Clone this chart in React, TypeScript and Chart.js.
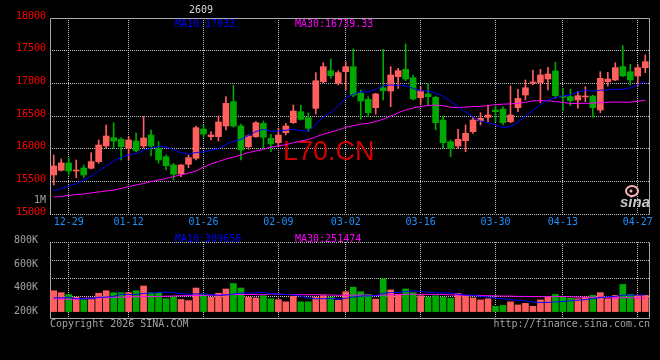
import React, { useEffect, useRef } from 'react';
import { Chart, registerables } from 'chart.js';

Chart.register(...registerables);

// ---------- data ----------
const dates = [
  '12-25', '12-26', '12-29', '12-30', '12-31',
  '01-05', '01-06', '01-07', '01-08', '01-09',
  '01-12', '01-13', '01-14', '01-15', '01-16',
  '01-19', '01-20', '01-21', '01-22', '01-23',
  '01-26', '01-27', '01-28', '01-29', '01-30',
  '02-02', '02-03', '02-04', '02-05', '02-06',
  '02-09', '02-10', '02-11', '02-12', '02-13',
  '02-24', '02-25', '02-26', '02-27',
  '03-02', '03-03', '03-04', '03-05', '03-06',
  '03-09', '03-10', '03-11', '03-12', '03-13',
  '03-16', '03-17', '03-18', '03-19', '03-20',
  '03-23', '03-24', '03-25', '03-26', '03-27',
  '03-30', '03-31', '04-01', '04-02', '04-03',
  '04-07', '04-08', '04-09', '04-10',
  '04-13', '04-14', '04-15', '04-16', '04-17',
  '04-20', '04-21', '04-22', '04-23', '04-24',
  '04-27', '04-28',
];

const tickDates = ['12-29', '01-12', '01-26', '02-09', '03-02', '03-16', '03-30', '04-13', '04-27'];

const open = [
  15597, 15669, 15781, 15658, 15704, 15700, 15801, 16041, 16168, 16143,
  16006, 16117, 16041, 16209, 16006, 15877, 15750, 15612, 15761, 15852,
  16301, 16183, 16183, 16347, 16719, 16347, 16030, 16183, 16388, 16158,
  16091, 16245, 16397, 16566, 16474, 16618, 17025, 17193, 17000, 17178,
  17255, 16847, 16755, 16627, 16933, 16883, 17102, 17214, 17086, 16780,
  16837, 16786, 16439, 16107, 16041, 16122, 16260, 16428, 16480, 16592,
  16607, 16413, 16627, 16821, 17000, 17010, 17066, 17189, 16806, 16796,
  16745, 16791, 16806, 16592, 17025, 17051, 17255, 17178, 17112, 17240,
];
const high = [
  15903, 15842, 15862, 15827, 15750, 15938, 16133, 16362, 16397, 16168,
  16183, 16240, 16492, 16286, 16107, 15903, 15776, 15760, 15903, 16347,
  16362, 16260, 16500, 16796, 16974, 16378, 16210, 16413, 16423, 16220,
  16311, 16388, 16668, 16668, 16550, 17163, 17316, 17372, 17193, 17331,
  17525, 16898, 16796, 16847, 17520, 17255, 17230, 17602, 17128, 16948,
  17000, 16806, 16500, 16133, 16296, 16362, 16480, 16550, 16668, 16653,
  16642, 16959, 16908, 17051, 17204, 17214, 17245, 17322, 16924, 16908,
  16872, 16948, 16821, 17178, 17168, 17316, 17576, 17291, 17281, 17434,
];
const low = [
  15444, 15658, 15597, 15556, 15556, 15689, 15776, 16006, 16006, 15827,
  15827, 15954, 16010, 15888, 15776, 15673, 15520, 15571, 15709, 15827,
  16171, 16133, 16117, 16286, 16327, 15827, 15990, 16174, 16006, 15954,
  16030, 16209, 16388, 16439, 16260, 16531, 17010, 17077, 16974, 16898,
  16796, 16454, 16490, 16531, 16745, 16642, 16924, 17040, 16745, 16668,
  16668, 16286, 16006, 15877, 16006, 15954, 16235, 16362, 16413, 16413,
  16362, 16397, 16566, 16745, 16974, 16704, 16898, 16770, 16581, 16658,
  16618, 16719, 16480, 16551, 16959, 17040, 17102, 16974, 16959, 17163,
];
const close = [
  15735, 15781, 15658, 15673, 15597, 15801, 16056, 16194, 16117, 16030,
  16133, 15972, 16163, 16041, 15827, 15739, 15607, 15750, 15862, 16321,
  16224, 16209, 16408, 16694, 16347, 15980, 16194, 16397, 16174, 16071,
  16209, 16347, 16576, 16449, 16311, 17040, 17255, 17117, 17163, 17255,
  16821, 16730, 16551, 16837, 16887, 17128, 17194, 17066, 16760, 16887,
  16796, 16397, 16091, 16006, 16143, 16235, 16439, 16464, 16515, 16566,
  16397, 16515, 16770, 16933, 17020, 17128, 17143, 16811, 16786, 16735,
  16811, 16806, 16627, 17077, 17066, 17240, 17113, 17051, 17240, 17331,
];
const volume = [
  375000, 359000, 344000, 321000, 300000, 302000, 354000, 375000, 359000, 359000,
  359000, 375000, 415000, 359000, 359000, 308000, 323000, 302000, 292000, 398000,
  346000, 321000, 354000, 390000, 436000, 398000, 321000, 315000, 333000, 308000,
  300000, 282000, 328000, 282000, 282000, 321000, 333000, 321000, 295000, 367000,
  405000, 367000, 344000, 305000, 475000, 382000, 346000, 390000, 359000, 333000,
  321000, 333000, 321000, 313000, 352000, 328000, 315000, 298000, 308000, 244000,
  252000, 282000, 256000, 269000, 244000, 298000, 321000, 344000, 328000, 313000,
  308000, 321000, 336000, 359000, 308000, 336000, 428000, 344000, 336000, 336000,
];
// moving-average values before enough history exists
const ma10Head = [15357, 15390, 15429, 15467, 15513, 15582, 15658, 15735, 15811];
const ma30Head = [
  15260, 15268, 15283, 15298, 15306, 15321, 15337, 15352, 15367, 15390,
  15421, 15444, 15467, 15497, 15520, 15543, 15574, 15597, 15628, 15658,
  15719, 15765, 15804, 15842, 15872, 15903, 15941, 15964, 15987,
];
const volMa10Head = [315000, 315000, 321000, 308000, 308000, 308000, 321000, 321000, 328000];
const volMa30Head = [
  308000, 308000, 303000, 303000, 313000, 313000, 313000, 321000, 321000, 321000,
  324000, 325000, 326000, 327000, 328000, 329000, 331000, 333000, 334000, 335000,
  336000, 338000, 340000, 342000, 343000, 344000, 344000, 343000, 341000,
];
const priceMin = 15000;
const priceMax = 18000;
const priceStep = 500;
const volTicks = [200000, 400000, 600000, 800000];
const volBase = 200000;

// ---------- styles ----------
const MONO = "'DejaVu Sans Mono', monospace";
const UP = '#ff5f5f';
const DOWN = '#00a800';
const GRID = '#c4c4c4';
const FRAME = '#a8a8a8';
const GREY_TXT = '#a0a0a0';

function movingAverage(src: number[], n: number, head: number[]) {
  return src.map((_, i) => {
    if (i < head.length) return head[i];
    let s = 0;
    for (let k = i - n + 1; k <= i; k++) s += src[k];
    return s / n;
  });
}

const tickSet = new Set(tickDates.map((d) => dates.indexOf(d)));
const candleColors = close.map((c, i) => (c >= open[i] ? UP : DOWN));

const xGrid = (ctx: any) => (tickSet.has(ctx.index) ? GRID : 'rgba(0,0,0,0)');

const pricePlugin = {
  id: 'priceDeco',
  beforeDatasetsDraw(chart: any) {
    const { ctx, chartArea: a } = chart;
    ctx.save();
    ctx.fillStyle = '#d00000';
    ctx.font = "27px 'Liberation Sans', Arial, sans-serif";
    ctx.textAlign = 'left';
    ctx.textBaseline = 'alphabetic';
    ctx.fillText('L70.CN', 283, 160);
    // sina logo
    ctx.strokeStyle = '#ffb4b4';
    ctx.lineWidth = 2;
    ctx.beginPath();
    ctx.ellipse(632, 191, 6, 5, 0, 0, Math.PI * 2);
    ctx.stroke();
    ctx.fillStyle = '#ffb4b4';
    ctx.beginPath();
    ctx.arc(631, 191, 1.5, 0, Math.PI * 2);
    ctx.fill();
    ctx.fillStyle = '#c8c8c8';
    ctx.font = "italic bold 15px 'Liberation Sans', Arial, sans-serif";
    ctx.fillText('sina', 620, 207);
    // frame
    ctx.strokeStyle = FRAME;
    ctx.lineWidth = 1;
    ctx.beginPath();
    ctx.moveTo(a.left + 0.5, a.bottom + 0.5);
    ctx.lineTo(a.left + 0.5, a.top + 0.5);
    ctx.lineTo(a.right + 0.5, a.top + 0.5);
    ctx.lineTo(a.right + 0.5, a.bottom + 0.5);
    ctx.stroke();
    ctx.setLineDash([1, 1]);
    ctx.strokeStyle = GRID;
    ctx.beginPath();
    ctx.moveTo(a.left, a.bottom + 0.5);
    ctx.lineTo(a.right, a.bottom + 0.5);
    ctx.stroke();
    ctx.restore();
  },
  afterDraw(chart: any) {
    const { ctx } = chart;
    ctx.save();
    ctx.font = `10px ${MONO}`;
    ctx.textBaseline = 'middle';
    ctx.textAlign = 'left';
    ctx.fillStyle = '#d8d8d8';
    ctx.fillText('2609', 189, 10);
    ctx.fillStyle = '#0000ff';
    ctx.fillText('MA10:17033', 175, 24);
    ctx.fillStyle = '#ff00ff';
    ctx.fillText('MA30:16739.33', 295, 24);
    ctx.fillStyle = GREY_TXT;
    ctx.textAlign = 'right';
    ctx.fillText('1M', 46, 200);
    ctx.restore();
  },
};

const volPlugin = {
  id: 'volDeco',
  beforeDatasetsDraw(chart: any) {
    const { ctx, chartArea: a } = chart;
    ctx.save();
    ctx.strokeStyle = FRAME;
    ctx.lineWidth = 1;
    ctx.beginPath();
    ctx.moveTo(a.left + 0.5, a.top + 0.5);
    ctx.lineTo(a.left + 0.5, a.bottom + 0.5);
    ctx.lineTo(a.right + 0.5, a.bottom + 0.5);
    ctx.lineTo(a.right + 0.5, a.top + 0.5);
    ctx.stroke();
    ctx.setLineDash([1, 1]);
    ctx.strokeStyle = GRID;
    ctx.beginPath();
    ctx.moveTo(a.left, a.top + 0.5);
    ctx.lineTo(a.right, a.top + 0.5);
    ctx.stroke();
    ctx.restore();
  },
  afterDraw(chart: any) {
    const { ctx } = chart;
    ctx.save();
    ctx.font = `10px ${MONO}`;
    ctx.textBaseline = 'middle';
    ctx.textAlign = 'left';
    ctx.fillStyle = '#0000ff';
    ctx.fillText('MA10:309656', 175, 7);
    ctx.fillStyle = '#ff00ff';
    ctx.fillText('MA30:251474', 295, 7);
    ctx.fillStyle = GREY_TXT;
    ctx.fillText('Copyright 2026 SINA.COM', 50, 92);
    ctx.textAlign = 'right';
    ctx.fillText('http://finance.sina.com.cn', 650, 92);
    ctx.restore();
  },
};

export default function App() {
  const priceRef = useRef<HTMLCanvasElement | null>(null);
  const volRef = useRef<HTMLCanvasElement | null>(null);

  useEffect(() => {
    document.body.style.background = '#000';
    const ma10 = movingAverage(close, 10, ma10Head);
    const ma30 = movingAverage(close, 30, ma30Head);
    const vma10 = movingAverage(volume, 10, volMa10Head);
    const vma30 = movingAverage(volume, 30, volMa30Head);

    const priceChart = new Chart(priceRef.current as HTMLCanvasElement, {
      type: 'bar',
      data: {
        labels: dates,
        datasets: [
          { type: 'line', data: ma10, borderColor: '#0000ff', borderWidth: 1, pointRadius: 0, order: 0 } as any,
          { type: 'line', data: ma30, borderColor: '#ff00ff', borderWidth: 1, pointRadius: 0, order: 0 } as any,
          {
            type: 'bar',
            data: open.map((o, i) => [o, close[i]]),
            backgroundColor: candleColors,
            barThickness: 6,
            grouped: false,
            minBarLength: 1,
            order: 1,
          } as any,
          {
            type: 'bar',
            data: low.map((l, i) => [l, high[i]]),
            backgroundColor: candleColors,
            barThickness: 1,
            grouped: false,
            order: 2,
          } as any,
        ],
      },
      options: {
        responsive: false,
        maintainAspectRatio: false,
        animation: false,
        events: [],
        layout: { padding: { top: 18, right: 11, left: 0, bottom: 0 } },
        plugins: { legend: { display: false }, tooltip: { enabled: false } },
        scales: {
          x: {
            type: 'category',
            offset: true,
            grid: { offset: false, color: xGrid, drawTicks: false, lineWidth: 1 },
            border: { display: false, dash: [1, 1] },
            ticks: {
              autoSkip: false,
              maxRotation: 0,
              minRotation: 0,
              padding: 2,
              color: '#1e90ff',
              font: { family: MONO, size: 10 },
              callback: (_v: any, i: number) => (tickSet.has(i) ? dates[i] : ''),
            },
            afterFit: (s: any) => {
              s.height = 18;
            },
          },
          y: {
            min: priceMin,
            max: priceMax,
            grid: {
              color: (ctx: any) =>
                ctx.tick && (ctx.tick.value === priceMin || ctx.tick.value === priceMax) ? 'rgba(0,0,0,0)' : GRID,
              drawTicks: false,
            },
            border: { display: false, dash: [1, 1] },
            ticks: {
              stepSize: priceStep,
              color: '#ff0000',
              font: { family: MONO, size: 10 },
              padding: 4,
              labelOffset: -2,
              callback: (v: any) => String(Math.round(Number(v))),
            },
            afterFit: (s: any) => {
              s.width = 50;
            },
          },
        },
      } as any,
      plugins: [pricePlugin],
    });

    const volChart = new Chart(volRef.current as HTMLCanvasElement, {
      type: 'bar',
      data: {
        labels: dates,
        datasets: [
          { type: 'line', data: vma10, borderColor: '#0000ff', borderWidth: 1, pointRadius: 0, order: 0, yAxisID: 'y' } as any,
          { type: 'line', data: vma30, borderColor: '#ff00ff', borderWidth: 1, pointRadius: 0, order: 0, yAxisID: 'y' } as any,
          {
            type: 'bar',
            data: volume,
            base: volBase,
            backgroundColor: candleColors,
            barThickness: 6,
            grouped: false,
            order: 1,
            yAxisID: 'y',
          } as any,
        ],
      },
      options: {
        responsive: false,
        maintainAspectRatio: false,
        animation: false,
        events: [],
        layout: { padding: { top: 3, right: 11, left: 0, bottom: 0 } },
        plugins: { legend: { display: false }, tooltip: { enabled: false } },
        scales: {
          x: {
            type: 'category',
            offset: true,
            grid: { offset: false, color: xGrid, drawTicks: false },
            border: { display: false, dash: [1, 1] },
            ticks: { display: false, autoSkip: false },
            afterFit: (s: any) => {
              s.height = 42;
            },
          },
          y: {
            position: 'left',
            min: 146154,
            max: 784615,
            afterBuildTicks: (s: any) => {
              s.ticks = volTicks.map((v) => ({ value: v }));
            },
            grid: { display: false },
            border: { display: false },
            ticks: {
              color: GREY_TXT,
              font: { family: MONO, size: 10 },
              padding: 4,
              callback: (v: any) => `${Math.round(Number(v) / 1000)}K`,
            },
            afterFit: (s: any) => {
              s.width = 50;
            },
          },
          yg: {
            position: 'right',
            reverse: true,
            min: 0,
            max: 83,
            ticks: { display: false, stepSize: 20 },
            grid: {
              drawTicks: false,
              color: (ctx: any) => (ctx.tick && ctx.tick.value > 0 && ctx.tick.value < 80 ? GRID : 'rgba(0,0,0,0)'),
            },
            border: { display: false, dash: [1, 1] },
            afterFit: (s: any) => {
              s.width = 0;
            },
          },
        },
      } as any,
      plugins: [volPlugin],
    });

    return () => {
      priceChart.destroy();
      volChart.destroy();
    };
  }, []);

  return (
    <div style={{ position: 'fixed', left: 0, top: 0, width: 660, height: 360, background: '#000', overflow: 'hidden' }}>
      <canvas ref={priceRef} width={660} height={232} style={{ position: 'absolute', left: 0, top: 0, display: 'block' }} />
      <canvas ref={volRef} width={660} height={128} style={{ position: 'absolute', left: 0, top: 232, display: 'block' }} />
    </div>
  );
}
